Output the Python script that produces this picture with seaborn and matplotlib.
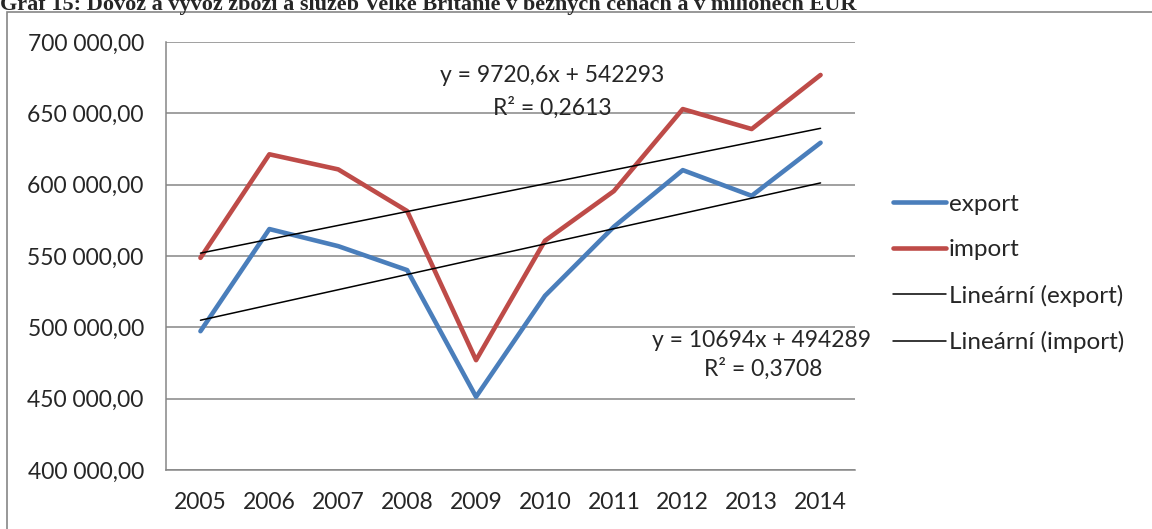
import matplotlib
matplotlib.use("Agg")
import matplotlib.pyplot as plt
from matplotlib.patches import Rectangle
from matplotlib.lines import Line2D
from matplotlib.ticker import FuncFormatter
import seaborn as sns
import pandas as pd
import numpy as np

years = ["2005", "2006", "2007", "2008", "2009", "2010", "2011", "2012", "2013", "2014"]
export = [497300, 568900, 556900, 540100, 451300, 522100, 570500, 610200, 592200, 629400]
imports = [548700, 621300, 610700, 581500, 477000, 560700, 595500, 653000, 639000, 676900]

# trend coefficients as shown in the chart (x = 1..10)
trend_export = (10694, 494289)
trend_import = (9720.6, 542293)

sns.set_theme(style="white")
plt.rcParams["font.family"] = ["Lato", "DejaVu Sans"]

df = pd.DataFrame({"x": range(len(years)), "export": export, "import": imports})

fig = plt.figure(figsize=(11.52, 5.29), dpi=100)
ax = fig.add_axes([0.1441, 0.1115, 0.5981, 0.8091])

grid_col = "#868686"
for v in range(400000, 700001, 50000):
    ax.axhline(v, color=grid_col, lw=1.1, zorder=0)

sns.lineplot(data=df, x="x", y="export", ax=ax, color="#4A7EBB", lw=3.3,
             solid_capstyle="round", label="export", legend=False)
sns.lineplot(data=df, x="x", y="import", ax=ax, color="#BE4B48", lw=3.3,
             solid_capstyle="round", label="import", legend=False)

xs = np.arange(len(years))
for k, q in [trend_export, trend_import]:
    ax.plot(xs, k * (xs + 1) + q, color="black", lw=1.1)

fs = 16.5
ax.text(5.1, 676500, "y = 9720,6x + 542293", ha="center", va="center", fontsize=fs)
ax.text(5.1, 654000, "R² = 0,2613", ha="center", va="center", fontsize=fs)
ax.text(8.15, 491000, "y = 10694x + 494289", ha="center", va="center", fontsize=fs)
ax.text(9.02, 470700, "R² = 0,3708", ha="right", va="center", fontsize=fs)

ax.set_xlim(-0.5, 9.5)
ax.set_ylim(400000, 700000)
ax.set_xticks(xs)
ax.set_xticklabels(years, fontsize=fs)
ax.set_xticks(np.arange(-0.5, 10, 1), minor=True)
ax.tick_params(axis="x", which="major", length=0, pad=16)
ax.tick_params(axis="x", which="minor", length=8, color=grid_col, width=1.1, direction="out")
ax.set_yticks(range(400000, 700001, 50000))
ax.yaxis.set_major_formatter(FuncFormatter(lambda v, p: f"{int(v):,}".replace(",", " ") + ",00"))
ax.tick_params(axis="y", length=6, color=grid_col, width=1.1, direction="out", labelsize=fs, pad=10)
ax.set_xlabel("")
ax.set_ylabel("")
for s in ["top", "right"]:
    ax.spines[s].set_visible(False)
for s in ["left", "bottom"]:
    ax.spines[s].set_color(grid_col)
    ax.spines[s].set_linewidth(1.1)

handles = [
    Line2D([], [], color="#4A7EBB", lw=3.3, solid_capstyle="round"),
    Line2D([], [], color="#BE4B48", lw=3.3, solid_capstyle="round"),
    Line2D([], [], color="black", lw=1.1),
    Line2D([], [], color="black", lw=1.1),
]
labels = ["export", "import", "Lineární (export)", "Lineární (import)"]
fig.legend(handles, labels, loc="center left", bbox_to_anchor=(0.775, 0.483),
           frameon=False, fontsize=17.5, handlelength=2.2, handletextpad=0.1,
           labelspacing=1.0, borderaxespad=0, borderpad=0)

fig.patches.append(Rectangle((7 / 1152, -0.05), 1.2, 1 - 12 / 529 + 0.05,
                             transform=fig.transFigure, fill=False,
                             edgecolor=grid_col, lw=1.2))
fig.text(0.0, 1 - 10 / 529, "Graf 15: Dovoz a vývoz zboží a služeb Velké Británie v běžných cenách a v milionech EUR",
         ha="left", va="baseline", fontsize=16, fontweight="bold",
         family=["Liberation Serif", "DejaVu Serif"])

fig.savefig("out.png", dpi=100)
